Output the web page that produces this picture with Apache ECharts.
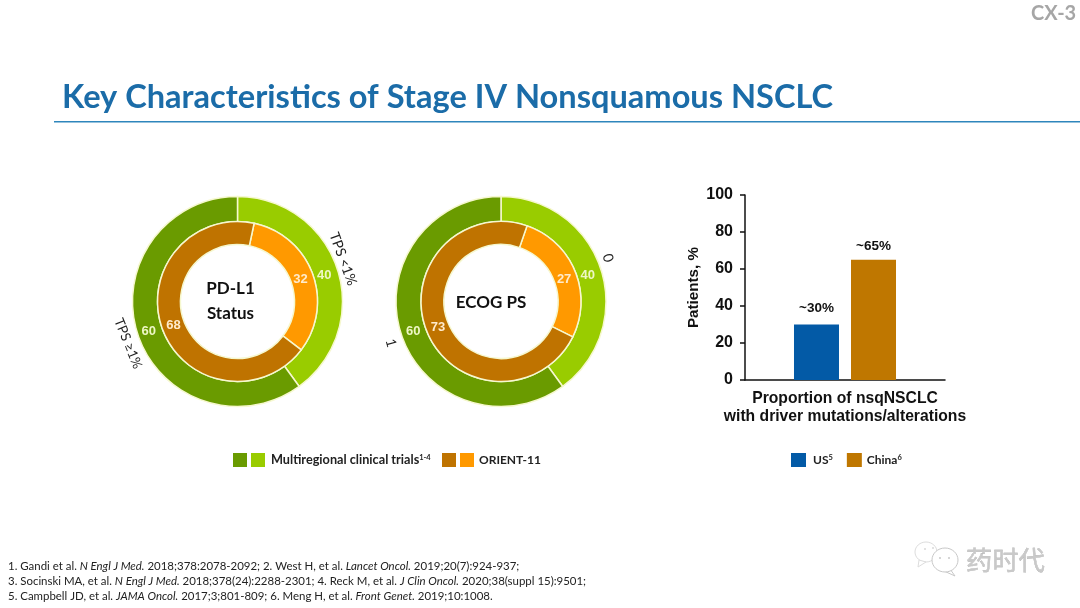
<!DOCTYPE html>
<html><head><meta charset="utf-8">
<style>html,body{margin:0;padding:0;background:#fff}#c{width:1080px;height:608px}</style>
<script src="https://cdn.jsdelivr.net/npm/echarts@6/dist/echarts.min.js"></script>
</head><body><div id="c"></div>
<script>
const pdl1Outer = [40, 60];
const pdl1Inner = [32, 68];
const ecogOuter = [40, 60];
const ecogInner = [27, 73];
const pdl1Cats = ['TPS <1%', 'TPS ≥1%'];
const ecogCats = ['0', '1'];
const barCategory = ['Proportion of nsqNSCLC\nwith driver mutations/alterations'];
const usValues = [30];
const chinaValues = [65];
const barLabels = { US: '~30%', China: '~65%' };
const yTicks = [0, 20, 40, 60, 80, 100];
const footnotes = [
  '{n|1. Gandi et al. }{i|N Engl J Med.}{n| 2018;378:2078-2092; 2. West H, et al. }{i|Lancet Oncol.}{n| 2019;20(7):924-937;}',
  '{n|3. Socinski MA, et al. }{i|N Engl J Med.}{n| 2018;378(24):2288-2301; 4. Reck M, et al. }{i|J Clin Oncol.}{n| 2020;38(suppl 15):9501;}',
  '{n|5. Campbell JD, et al. }{i|JAMA Oncol.}{n| 2017;3;801-809; 6. Meng H, et al. }{i|Front Genet.}{n| 2019;10:1008.}'
];

const C = { dg: '#6A9B00', lg: '#99CC00', do: '#BF7300', lo: '#FF9900', us: '#035AA6', cn: '#BF7700', sep: '#F6F8CF' };
const ARIAL = '"Liberation Sans", Arial, sans-serif';
const CAL = 'Lato, "Open Sans", sans-serif';

function ring(name, center, radius, startAngle, values, names, colors, labelColor, offsets) {
  return {
    type: 'pie', name, center, radius, startAngle, clockwise: true, silent: true,
    avoidLabelOverlap: false, animation: false,
    itemStyle: { borderColor: C.sep, borderWidth: 1.5 },
    label: { show: true, position: 'inside', formatter: '{c}', color: labelColor, fontFamily: ARIAL, fontWeight: 'bold', fontSize: 13 },
    labelLine: { show: false },
    data: values.map((v, i) => ({ value: v, name: names[i], itemStyle: { color: colors[i] }, label: { offset: offsets[i] } }))
  };
}
const sideText = (text, x, y, rot, size) => ({
  type: 'text', x, y, rotation: -rot * Math.PI / 180,
  style: { text, fill: '#222', font: size + 'px ' + CAL, align: 'center', verticalAlign: 'middle' }
});
const supRich = {
  a: { fontFamily: CAL, fontWeight: 'bold', fontSize: 12, color: '#222' },
  m: { fontFamily: CAL, fontWeight: 'bold', fontSize: 12.7, color: '#222', padding: [0, 0, 0, 1] },
  u: { fontFamily: CAL, fontWeight: 'bold', fontSize: 12, color: '#222', padding: [0, 0, 0, 2] },
  s: { fontFamily: CAL, fontWeight: 'bold', fontSize: 7.5, color: '#222', verticalAlign: 'top', padding: [0, 0, 5, 0] }
};
const legendText = {
  'MRCT TPS ≥1%': '', 'MRCT TPS <1%': '{m|Multiregional clinical trials}{s|1-4}',
  'ORIENT TPS ≥1%': '', 'ORIENT TPS <1%': '{a|ORIENT-11}',
  'US': '{u|US}{s|5}', 'China': '{a|China}{s|6}'
};
const legendBase = {
  orient: 'horizontal', icon: 'rect', itemWidth: 14, itemHeight: 14, selectedMode: false,
  itemStyle: { borderWidth: 0 }, padding: 0,
  formatter: n => legendText[n], textStyle: { rich: supRich }
};
const heading = (text, left, top, size, color, weight, align) => ({
  text, left, top, textAlign: align || 'left', padding: 0,
  textStyle: { fontFamily: CAL, fontSize: size, color, fontWeight: weight || 'bold', lineHeight: 26 }
});

const option = {
  backgroundColor: '#fff',
  animation: false,
  title: [
    heading('Key Characteristics of Stage IV Nonsquamous NSCLC', 62, 84, 32.6, '#1B6CA8'),
    heading('CX-3', 1031, 1, 20, '#A6A6A6'),
    { text: 'PD-L1\nStatus', left: 230.5, top: 276, textAlign: 'center', padding: 0,
      textStyle: { fontFamily: CAL, fontSize: 17, fontWeight: 'bold', color: '#111', lineHeight: 25 } },
    { text: 'ECOG PS', left: 491, top: 290, textAlign: 'center', padding: 0,
      textStyle: { fontFamily: CAL, fontSize: 17, fontWeight: 'bold', color: '#111', lineHeight: 25 } }
  ],
  legend: [
    Object.assign({}, legendBase, { left: 233, top: 453, itemGap: 4, data: ['MRCT TPS ≥1%', 'MRCT TPS <1%'] }),
    Object.assign({}, legendBase, { left: 442, top: 453, itemGap: 4, data: ['ORIENT TPS ≥1%', 'ORIENT TPS <1%'] }),
    Object.assign({}, legendBase, { left: 791, top: 453, itemGap: 14, itemWidth: 15, data: ['US', 'China'] })
  ],
  grid: { left: 745, right: 135, top: 195, bottom: 228 },
  xAxis: {
    type: 'category', data: barCategory,
    axisLine: { lineStyle: { color: '#111', width: 1.5 } }, axisTick: { show: false },
    axisLabel: { color: '#111', fontFamily: ARIAL, fontWeight: 'bold', fontSize: 15.7, lineHeight: 18, margin: 10, interval: 0 }
  },
  yAxis: {
    type: 'value', min: yTicks[0], max: yTicks[yTicks.length - 1], interval: 20,
    name: 'Patients, %', nameLocation: 'middle', nameGap: 44, nameRotate: 90,
    nameTextStyle: { color: '#111', fontFamily: ARIAL, fontWeight: 'bold', fontSize: 15.2 },
    splitLine: { show: false },
    axisLine: { show: true, lineStyle: { color: '#111', width: 1.5 } },
    axisTick: { show: true, length: 5, lineStyle: { color: '#111', width: 1.5 } },
    axisLabel: { color: '#111', fontFamily: ARIAL, fontWeight: 'bold', fontSize: 16, margin: 12 }
  },
  series: [
    ring('PD-L1 outer', [237.5, 301.5], [80, 105], 90, pdl1Outer, pdl1Cats.map(c => 'MRCT ' + c), [C.lg, C.dg], '#EEF7C4', [[-4, 3], [2, 0]]),
    ring('PD-L1 inner', [237.5, 301.5], [57, 80], 78, pdl1Inner, pdl1Cats.map(c => 'ORIENT ' + c), [C.lo, C.do], '#FFEBCB', [[-4, 3], [3, -1]]),
    ring('ECOG outer', [501, 301.5], [80, 105], 90, ecogOuter, ecogCats.map(c => 'MRCT ECOG ' + c), [C.lg, C.dg], '#EEF7C4', [[-4, 3], [3, 0]]),
    ring('ECOG inner', [501, 301.5], [57, 80], 71, ecogInner, ecogCats.map(c => 'ORIENT ECOG ' + c), [C.lo, C.do], '#FFEBCB', [[-3, 5], [3, -1]]),
    { type: 'bar', name: 'US', data: usValues, barWidth: 45, barGap: '26.7%', silent: true,
      itemStyle: { color: C.us },
      label: { show: true, position: 'top', distance: 9, formatter: barLabels.US, color: '#111', fontFamily: ARIAL, fontWeight: 'bold', fontSize: 13.5 } },
    { type: 'bar', name: 'China', data: chinaValues, barWidth: 45, silent: true,
      itemStyle: { color: C.cn },
      label: { show: true, position: 'top', distance: 6, formatter: barLabels.China, color: '#111', fontFamily: ARIAL, fontWeight: 'bold', fontSize: 13.5 } }
  ],
  graphic: [
    { type: 'rect', shape: { x: 54, y: 121, width: 1026, height: 1.6 }, style: { fill: '#2E86BC' } },
    sideText(pdl1Cats[0], 343, 259, 70, 14),
    sideText(pdl1Cats[1], 128, 343.5, 68, 13.5),
    sideText(ecogCats[0], 608, 258, 75, 14),
    sideText(ecogCats[1], 391, 343, 75, 14),
    { type: 'text', x: 8, y: 566, style: { text: footnotes[0], verticalAlign: 'middle', rich: fnRich() } },
    { type: 'text', x: 8, y: 581, style: { text: footnotes[1], verticalAlign: 'middle', rich: fnRich() } },
    { type: 'text', x: 8, y: 596, style: { text: footnotes[2], verticalAlign: 'middle', rich: fnRich() } },
    { type: 'text', x: 966, y: 560, style: { text: '药时代', fill: '#C9C9C9', stroke: '#8a8a8a', lineWidth: 0.3, font: '26.3px "Noto Sans CJK SC"', verticalAlign: 'middle' } },
    { type: 'ellipse', shape: { cx: 926, cy: 552, rx: 11, ry: 10 }, style: { fill: '#fff', stroke: '#DDD', lineWidth: 1 } },
    { type: 'polygon', shape: { points: [[919, 560], [918, 567], [926, 562]] }, style: { fill: '#fff', stroke: '#DDD', lineWidth: 1 } },
    { type: 'circle', shape: { cx: 925, cy: 549, r: 1 }, style: { fill: '#D8D8D8' } },
    { type: 'circle', shape: { cx: 933, cy: 548, r: 1 }, style: { fill: '#D8D8D8' } },
    { type: 'polygon', shape: { points: [[950, 569], [955, 576], [944, 571]] }, style: { fill: '#fff', stroke: '#C8C8C8', lineWidth: 1 } },
    { type: 'ellipse', shape: { cx: 945, cy: 560, rx: 13, ry: 12 }, style: { fill: '#fff', stroke: '#C8C8C8', lineWidth: 1 } },
    { type: 'circle', shape: { cx: 940, cy: 558, r: 1 }, style: { fill: '#C8C8C8' } },
    { type: 'circle', shape: { cx: 949, cy: 558, r: 1 }, style: { fill: '#C8C8C8' } }
  ]
};
function fnRich() {
  return {
    n: { fontFamily: CAL, fontSize: 11.45, fill: '#222', color: '#222' },
    i: { fontFamily: CAL, fontSize: 11.45, fontStyle: 'italic', fill: '#222', color: '#222' }
  };
}
const chart = echarts.init(document.getElementById('c'), null, { renderer: 'canvas' });
chart.setOption(option);
</script></body></html>
